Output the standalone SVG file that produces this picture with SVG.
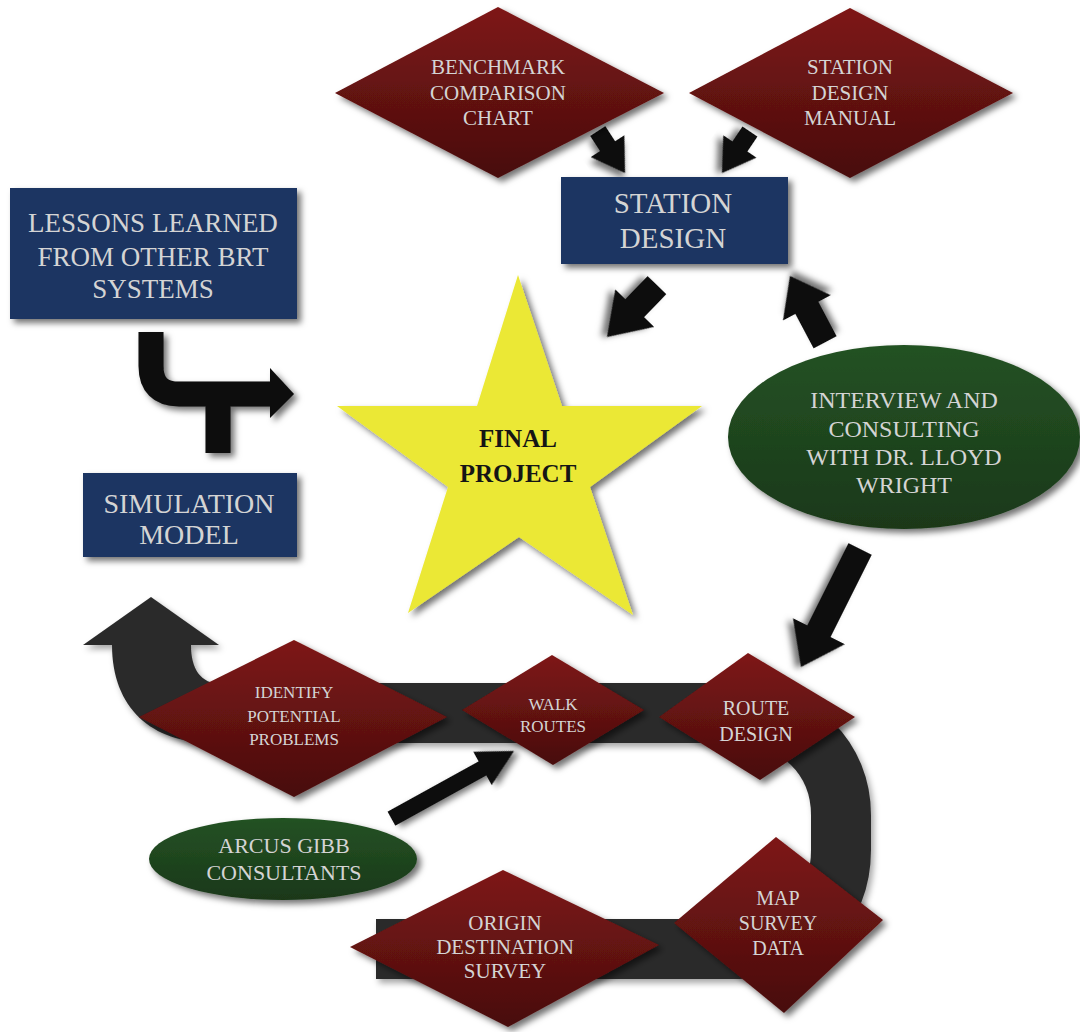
<svg xmlns="http://www.w3.org/2000/svg" width="1080" height="1032" viewBox="0 0 1080 1032">
<defs>
<linearGradient id="red" x1="0" y1="0" x2="0" y2="1">
<stop offset="0" stop-color="#7e1716"/>
<stop offset="1" stop-color="#480d0d"/>
</linearGradient>
<linearGradient id="green" x1="0" y1="0" x2="0" y2="1">
<stop offset="0" stop-color="#245224"/>
<stop offset="1" stop-color="#1a3819"/>
</linearGradient>
<filter id="sh" x="-20%" y="-20%" width="140%" height="140%">
<feDropShadow dx="4" dy="4" stdDeviation="3" flood-color="#000" flood-opacity="0.55"/>
</filter>
<filter id="shs" x="-20%" y="-20%" width="140%" height="140%">
<feDropShadow dx="3" dy="4" stdDeviation="3" flood-color="#000" flood-opacity="0.35"/>
</filter>
</defs>
<style>
.dia{fill:url(#red);filter:url(#sh)}
.box{fill:#1b3662;filter:url(#sh)}
.ell{fill:url(#green);filter:url(#sh)}
.arr{fill:#0b0b0b;filter:url(#sh)}
.trk{fill:none;stroke:#2c2c2c;stroke-width:60}
.t{font-family:"Liberation Serif",serif;fill:#d4d4d4;text-anchor:middle}
</style>
<rect width="1080" height="1032" fill="#ffffff"/>

<g id="connectors">
<g filter="url(#shs)">
<path class="trk" d="M 200,713 L 730,713 C 800,713 841,760 841,815 L 841,850 C 841,910 800,949 740,949 L 376,949"/>
<path fill="#2c2c2c" d="M 112,645 C 112,708 152,743 212,743 L 240,743 L 240,684 L 222,684 C 200,684 191,668 191,645 Z"/>
<polygon fill="#2c2c2c" points="83,645 219,645 151,597"/>
</g>
<g filter="url(#sh)">
<path d="M 151,332 L 151,366 Q 151,394 179,394 L 274,394" fill="none" stroke="#0b0b0b" stroke-width="25"/>
<path d="M 218,394 L 218,453" fill="none" stroke="#0b0b0b" stroke-width="25"/>
<polygon fill="#0b0b0b" points="270,368 294,394 270,418"/>
</g>
<path class="arr" d="M -50,-9 L -32,-9 L -32,-20 L 0,0 L -32,20 L -32,9 L -50,9 Z" transform="translate(625,173) rotate(57)"/>
<path class="arr" d="M -50,-9 L -32,-9 L -32,-20 L 0,0 L -32,20 L -32,9 L -50,9 Z" transform="translate(722,173) rotate(124)"/>
<path class="arr" d="M -72,-13 L -40,-13 L -40,-27 L 0,0 L -40,27 L -40,13 L -72,13 Z" transform="translate(607,337) rotate(133.9)"/>
<path class="arr" d="M -75,-13 L -36,-13 L -36,-27 L 0,0 L -36,27 L -36,13 L -75,13 Z" transform="translate(790,276) rotate(-117.9)"/>
<path class="arr" d="M -132,-13 L -40,-13 L -40,-29 L 0,0 L -40,29 L -40,13 L -132,13 Z" transform="translate(801,667) rotate(116.6)"/>
<path class="arr" d="M -140,-8 L -36,-8 L -36,-19 L 0,0 L -36,19 L -36,8 L -140,8 Z" transform="translate(514,751) rotate(-28.9)"/>
</g>

<g id="benchmark">
<polygon class="dia" points="335,93 498,7 664,93 498,178"/>
<text class="t" font-size="21"><tspan x="498" y="74">BENCHMARK</tspan><tspan x="498" y="100">COMPARISON</tspan><tspan x="498" y="125">CHART</tspan></text>
</g>
<g id="manual">
<polygon class="dia" points="689,93 850,8 1013,93 850,178"/>
<text class="t" font-size="21"><tspan x="850" y="74">STATION</tspan><tspan x="850" y="100">DESIGN</tspan><tspan x="850" y="125">MANUAL</tspan></text>
</g>
<g id="station">
<rect class="box" x="561" y="177" width="227" height="87"/>
<text class="t" font-size="29"><tspan x="673" y="213">STATION</tspan><tspan x="673" y="248">DESIGN</tspan></text>
</g>
<g id="lessons">
<rect class="box" x="10" y="188" width="287" height="131"/>
<text class="t" font-size="27"><tspan x="153" y="232">LESSONS LEARNED</tspan><tspan x="153" y="266">FROM OTHER BRT</tspan><tspan x="153" y="298">SYSTEMS</tspan></text>
</g>
<g id="simulation">
<rect class="box" x="83" y="473" width="214" height="84"/>
<text class="t" font-size="28"><tspan x="189" y="513">SIMULATION</tspan><tspan x="189" y="544">MODEL</tspan></text>
</g>
<g id="final">
<polygon fill="#ebe835" filter="url(#sh)" points="518,275 562,406 702,406 590,487 633,615 519,537 408,613 448,487 337,406 477,406"/>
<text class="t" font-size="25" font-weight="bold" style="fill:#151515"><tspan x="518" y="447">FINAL</tspan><tspan x="518" y="482">PROJECT</tspan></text>
</g>
<g id="interview">
<ellipse class="ell" cx="904" cy="437" rx="176" ry="92"/>
<text class="t" font-size="24"><tspan x="904" y="408">INTERVIEW AND</tspan><tspan x="904" y="437">CONSULTING</tspan><tspan x="904" y="465">WITH DR. LLOYD</tspan><tspan x="904" y="493">WRIGHT</tspan></text>
</g>
<g id="identify">
<polygon class="dia" points="139,717 294,640 447,717 294,797"/>
<text class="t" font-size="17"><tspan x="294" y="698">IDENTIFY</tspan><tspan x="294" y="722">POTENTIAL</tspan><tspan x="294" y="745">PROBLEMS</tspan></text>
</g>
<g id="walk">
<polygon class="dia" points="462,710 552,655 644,710 553,765"/>
<text class="t" font-size="17"><tspan x="553" y="710">WALK</tspan><tspan x="553" y="732">ROUTES</tspan></text>
</g>
<g id="route">
<polygon class="dia" points="659,717 748,653 855,717 760,780"/>
<text class="t" font-size="20"><tspan x="756" y="715">ROUTE</tspan><tspan x="756" y="741">DESIGN</tspan></text>
</g>
<g id="map">
<polygon class="dia" points="674,923 776,837 883,920 784,1013"/>
<text class="t" font-size="20"><tspan x="778" y="905">MAP</tspan><tspan x="778" y="930">SURVEY</tspan><tspan x="778" y="955">DATA</tspan></text>
</g>
<g id="origin">
<polygon class="dia" points="350,947 503,870 659,945 508,1027"/>
<text class="t" font-size="21"><tspan x="505" y="930">ORIGIN</tspan><tspan x="505" y="954">DESTINATION</tspan><tspan x="505" y="978">SURVEY</tspan></text>
</g>
<g id="arcus">
<ellipse class="ell" cx="283" cy="859" rx="134" ry="41"/>
<text class="t" font-size="22"><tspan x="284" y="853">ARCUS GIBB</tspan><tspan x="284" y="880">CONSULTANTS</tspan></text>
</g>
</svg>
